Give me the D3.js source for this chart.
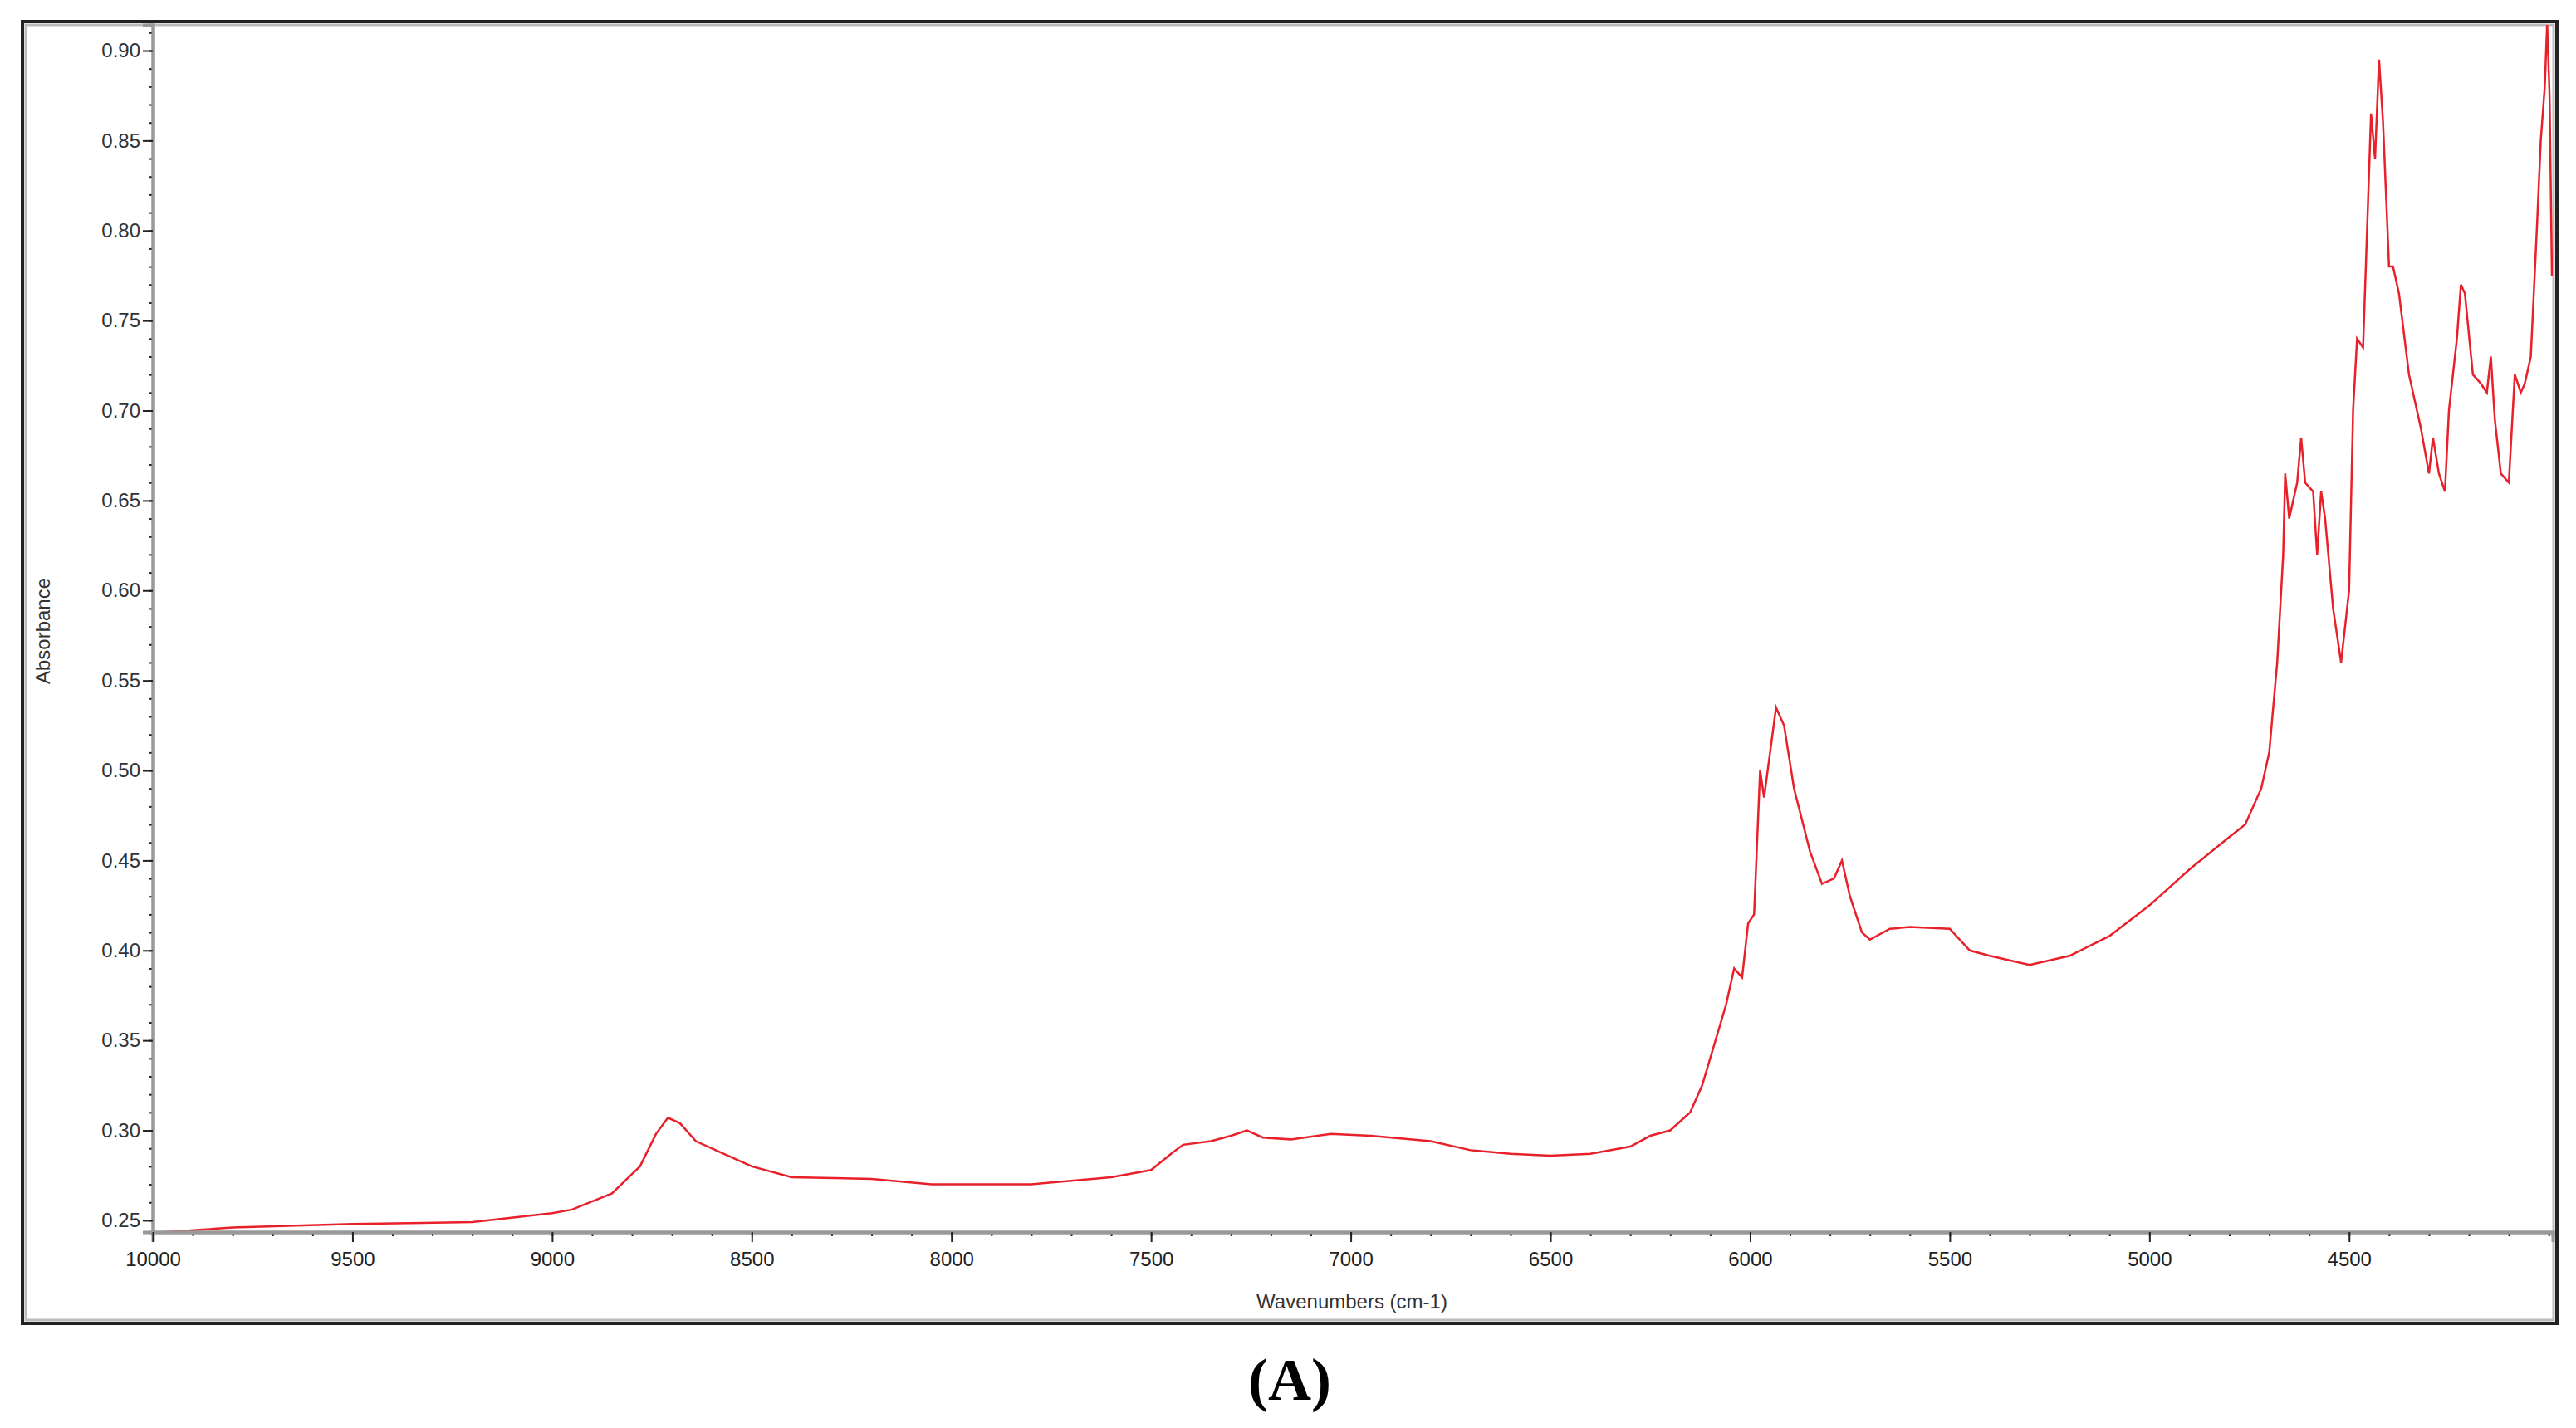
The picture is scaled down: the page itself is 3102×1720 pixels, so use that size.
<!DOCTYPE html><html><head><meta charset="utf-8"><script src="https://cdn.jsdelivr.net/npm/d3@7"></script>
<style>body{margin:0;background:#fff}</style></head><body><svg id="c" width="3102" height="1720"></svg><script>
const wavenumbers=[10000,9800,9500,9200,9000,8950,8850,8780,8740,8710,8680,8640,8580,8500,8400,8200,8050,7800,7600,7500,7450,7420,7350,7300,7260,7220,7150,7050,6950,6800,6700,6600,6500,6400,6300,6250,6200,6150,6120,6080,6060,6040,6020,6005,5990,5975,5965,5950,5935,5915,5890,5850,5820,5790,5770,5750,5720,5700,5650,5600,5500,5450,5400,5300,5200,5100,5000,4900,4800,4760,4720,4700,4680,4665,4660,4650,4630,4620,4610,4590,4580,4570,4560,4540,4520,4500,4490,4480,4465,4455,4445,4435,4425,4415,4400,4390,4375,4350,4320,4300,4290,4275,4260,4250,4230,4220,4210,4190,4170,4155,4145,4135,4120,4100,4085,4070,4060,4045,4030,4020,4010,4004,3998,3992];
const absorbance=[0.243,0.246,0.248,0.249,0.254,0.256,0.265,0.28,0.298,0.307,0.304,0.294,0.288,0.28,0.274,0.273,0.270,0.270,0.274,0.278,0.287,0.292,0.294,0.297,0.300,0.296,0.295,0.298,0.297,0.294,0.289,0.287,0.286,0.287,0.291,0.297,0.300,0.310,0.325,0.355,0.37,0.39,0.385,0.415,0.42,0.5,0.485,0.51,0.535,0.525,0.49,0.455,0.437,0.44,0.45,0.43,0.41,0.406,0.412,0.413,0.412,0.40,0.397,0.392,0.397,0.408,0.425,0.445,0.463,0.47,0.49,0.51,0.56,0.62,0.665,0.64,0.66,0.685,0.66,0.655,0.62,0.655,0.64,0.59,0.56,0.60,0.70,0.74,0.735,0.80,0.865,0.84,0.895,0.86,0.78,0.78,0.765,0.72,0.69,0.665,0.685,0.665,0.655,0.70,0.74,0.77,0.765,0.72,0.715,0.71,0.73,0.695,0.665,0.66,0.72,0.71,0.715,0.73,0.80,0.85,0.88,0.915,0.875,0.775];
const xTicks=[10000,9500,9000,8500,8000,7500,7000,6500,6000,5500,5000,4500];
const yTicks=[0.25,0.30,0.35,0.40,0.45,0.50,0.55,0.60,0.65,0.70,0.75,0.80,0.85,0.90];
const svg=d3.select("#c");
const L=184,R=3074,T=30,B=1484;
const x=d3.scaleLinear().domain([10000,3990]).range([L,R]);
const y=d3.scaleLinear().domain([0.2435,0.9143]).range([B,T]);
svg.append("rect").attr("x",27).attr("y",26).attr("width",3052).attr("height",1568).attr("fill","none").attr("stroke","#222").attr("stroke-width",4);
svg.append("rect").attr("x",31).attr("y",30).attr("width",3044).attr("height",1560).attr("fill","none").attr("stroke","#bbb").attr("stroke-width",3);
const clip=svg.append("clipPath").attr("id","cp").append("rect").attr("x",L).attr("y",T).attr("width",R-L).attr("height",B-T);
svg.append("path").datum(wavenumbers.map((w,i)=>[w,absorbance[i]])).attr("clip-path","url(#cp)")
 .attr("d",d3.line().x(d=>x(d[0])).y(d=>y(d[1]))).attr("fill","none").attr("stroke","#e8202a").attr("stroke-width",2.5);
const f="Liberation Sans, Arial, sans-serif";
const ya=svg.append("g").attr("transform",`translate(${L},0)`);
ya.call(d3.axisLeft(y).tickValues(d3.range(25,92).map(v=>v/100)).tickSize(5).tickFormat(""));
ya.call(g=>g.append("g").call(d3.axisLeft(y).tickValues(yTicks).tickSize(12).tickFormat(d3.format(".2f"))));
ya.selectAll("path.domain").attr("stroke","#999").attr("stroke-width",4);
ya.selectAll("line").attr("stroke","#222").attr("stroke-width",2);
ya.selectAll("text").attr("font-family",f).attr("font-size",24).attr("fill","#333");
const xa=svg.append("g").attr("transform",`translate(0,${B})`);
xa.call(d3.axisBottom(x).tickValues(d3.range(10000,3999,-100)).tickSize(5).tickFormat(""));
xa.call(g=>g.append("g").call(d3.axisBottom(x).tickValues(xTicks).tickSize(12).tickFormat(d3.format("d"))));
xa.selectAll("path.domain").attr("stroke","#999").attr("stroke-width",4);
xa.selectAll("line").attr("stroke","#222").attr("stroke-width",2);
xa.selectAll("text").attr("font-family",f).attr("font-size",24).attr("fill","#222").attr("dy","1.1em");
svg.append("text").attr("x",1628).attr("y",1576).attr("text-anchor","middle").attr("font-family",f).attr("font-size",24).attr("fill","#333").text("Wavenumbers (cm-1)");
svg.append("text").attr("transform","translate(60,760) rotate(-90)").attr("text-anchor","middle").attr("font-family",f).attr("font-size",24).attr("fill","#333").text("Absorbance");
svg.append("text").attr("x",1553).attr("y",1686).attr("text-anchor","middle").attr("font-family","Liberation Serif, serif").attr("font-size",72).attr("font-weight","bold").text("(A)");
</script></body></html>
